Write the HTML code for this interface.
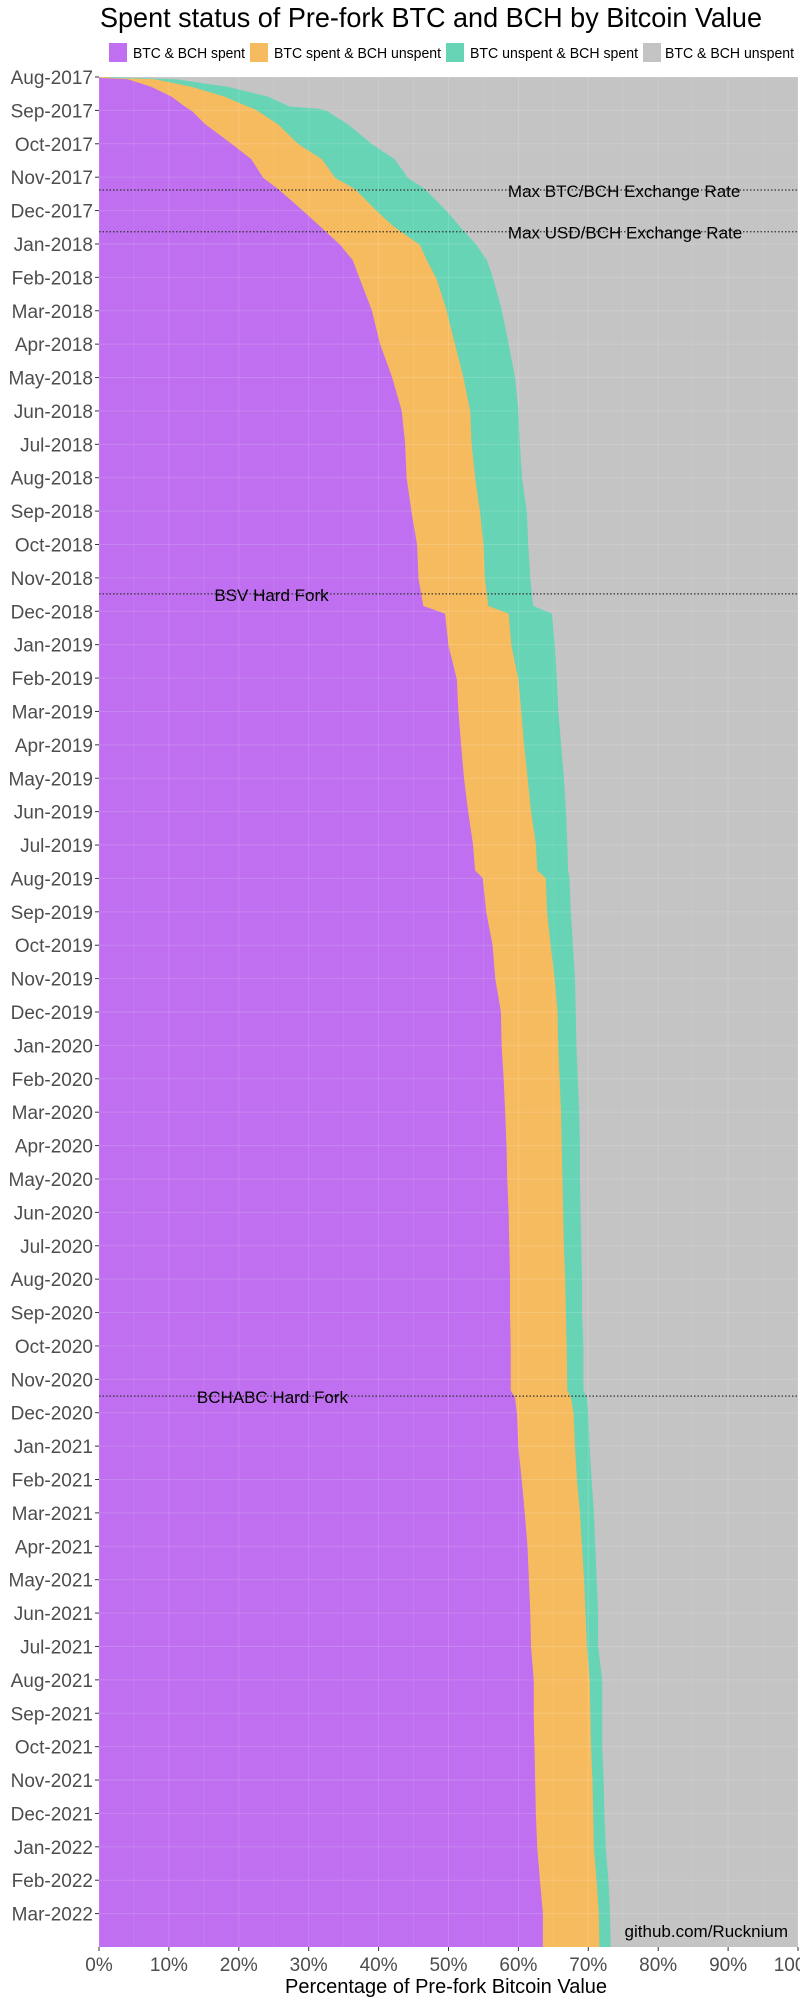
<!DOCTYPE html>
<html><head><meta charset="utf-8"><style>
body{margin:0;background:#fff;}
svg{display:block;font-family:"Liberation Sans",sans-serif;}
</style></head><body>
<svg id="chart" width="800" height="2000" viewBox="0 0 800 2000">
<text x="100" y="27" font-size="28" textLength="662" lengthAdjust="spacingAndGlyphs" fill="#000">Spent status of Pre-fork BTC and BCH by Bitcoin Value</text>
<g>
 <g><rect x="109" y="43" width="18" height="19" fill="#bf6fef"/><text x="133" y="58" font-size="15" textLength="112" lengthAdjust="spacingAndGlyphs">BTC &amp; BCH spent</text></g>
 <g><rect x="250" y="43" width="18" height="19" fill="#f7bb5f"/><text x="274" y="58" font-size="15" textLength="167" lengthAdjust="spacingAndGlyphs">BTC spent &amp; BCH unspent</text></g>
 <g><rect x="446" y="43" width="18" height="19" fill="#66d4b5"/><text x="470" y="58" font-size="15" textLength="168" lengthAdjust="spacingAndGlyphs">BTC unspent &amp; BCH spent</text></g>
 <g><rect x="643" y="43" width="18" height="19" fill="#c4c4c4"/><text x="665" y="58" font-size="15" textLength="129" lengthAdjust="spacingAndGlyphs">BTC &amp; BCH unspent</text></g>
</g>
<g id="plot"></g>
<text x="446" y="1993" font-size="20" text-anchor="middle">Percentage of Pre-fork Bitcoin Value</text>
</svg>
<script>
const dates=[
"2017-08-01","2017-08-02","2017-08-03","2017-08-10","2017-08-19","2017-08-28","2017-08-30","2017-09-01","2017-09-13","2017-10-01","2017-10-15","2017-11-01","2017-11-11","2017-12-01","2017-12-15",
"2018-01-01","2018-01-15","2018-02-01","2018-03-01","2018-04-01","2018-05-01","2018-06-01","2018-07-01","2018-08-01","2018-09-01","2018-10-01","2018-11-01","2018-11-26","2018-12-03",
"2019-01-01","2019-02-01","2019-03-01","2019-04-01","2019-05-01","2019-06-01","2019-07-01","2019-07-25","2019-08-01","2019-09-01","2019-10-01","2019-11-01","2019-12-01",
"2020-01-01","2020-02-01","2020-03-01","2020-04-01","2020-05-01","2020-06-01","2020-07-01","2020-08-01","2020-09-01","2020-10-01","2020-11-10","2020-11-16","2020-12-01",
"2021-01-01","2021-02-01","2021-03-01","2021-04-01","2021-05-01","2021-06-01","2021-07-01","2021-08-01","2021-09-01","2021-10-01","2021-11-01","2021-12-01",
"2022-01-01","2022-02-01","2022-03-01","2022-04-01"];
const cumBothSpent=[
0,0.4,4.1,7.5,10.4,12.3,12.8,13.3,15.2,19,21.8,23.5,25.6,29.2,31.6,
34.5,36.3,37.3,39,40.2,41.9,43.3,43.8,44,44.7,45.5,45.7,46.4,49.5,
50,51.2,51.4,51.8,52.2,52.8,53.5,53.8,54.9,55.4,56.3,56.7,57.5,
57.6,57.9,58.1,58.3,58.4,58.6,58.7,58.8,58.8,58.9,58.9,59.5,59.8,
60,60.5,60.9,61.3,61.5,61.7,61.8,62.2,62.2,62.3,62.4,62.5,
62.7,63.1,63.5,63.5];
const cumBtcSpent=[
0.5,2.3,8,13.3,18,21.3,22.2,22.7,25.6,28.5,31.9,33.8,36.6,39.7,42.1,
45.9,46.9,48.3,49.7,50.9,52.1,53.1,53.3,53.8,54.5,55,55.2,55.7,58.6,
59,60,60.4,60.8,61.3,61.8,62.5,62.7,63.9,64.1,64.6,65.2,65.6,
65.7,65.9,66.1,66.2,66.3,66.4,66.5,66.7,66.8,66.9,67,67.5,67.9,
68.1,68.4,68.8,69.1,69.4,69.6,69.8,70.2,70.3,70.4,70.6,70.7,
70.8,71.2,71.5,71.6];
const cumAnySpent=[
1,5.6,10.9,18.5,24.2,27.3,31.5,32.6,35.6,39,42.3,44.2,46.6,49.7,51.6,
54,55.5,56.4,57.6,58.6,59.5,60,60.2,60.5,61.2,61.4,61.7,62.1,64.8,
65.2,65.5,65.7,66.1,66.5,66.8,67,67.1,67.3,67.5,67.8,68.1,68.2,
68.3,68.5,68.7,68.8,68.8,68.9,69,69.1,69.1,69.3,69.3,69.8,70,
70.2,70.5,70.8,71,71.2,71.4,71.4,72,72,72,72.2,72.3,
72.5,72.9,73.1,73.2];
const monthLabels=["Aug-2017","Sep-2017","Oct-2017","Nov-2017","Dec-2017","Jan-2018","Feb-2018","Mar-2018","Apr-2018","May-2018","Jun-2018","Jul-2018","Aug-2018","Sep-2018","Oct-2018","Nov-2018","Dec-2018","Jan-2019","Feb-2019","Mar-2019","Apr-2019","May-2019","Jun-2019","Jul-2019","Aug-2019","Sep-2019","Oct-2019","Nov-2019","Dec-2019","Jan-2020","Feb-2020","Mar-2020","Apr-2020","May-2020","Jun-2020","Jul-2020","Aug-2020","Sep-2020","Oct-2020","Nov-2020","Dec-2020","Jan-2021","Feb-2021","Mar-2021","Apr-2021","May-2021","Jun-2021","Jul-2021","Aug-2021","Sep-2021","Oct-2021","Nov-2021","Dec-2021","Jan-2022","Feb-2022","Mar-2022"];
const xTicks=[0,10,20,30,40,50,60,70,80,90,100];
const eventDates=["2017-11-12","2017-12-20","2018-11-15","2020-11-15"];
const eventLabels=["Max BTC/BCH Exchange Rate","Max USD/BCH Exchange Rate","BSV Hard Fork","BCHABC Hard Fork"];
const eventLabelX=[58.5,58.5,16.5,14];

const NS="http://www.w3.org/2000/svg";
const L=99,R=798,T=77,B=1947;
const t0=Date.UTC(2017,7,1), t1=Date.UTC(2022,3,1);
function xs(v){return L+(R-L)*v/100;}
function ys(d){const p=d.split("-").map(Number);const t=Date.UTC(p[0],p[1]-1,p[2]);return T+(B-T)*(t-t0)/(t1-t0);}
const g=document.getElementById("plot");
function mk(tag,attrs){const e=document.createElementNS(NS,tag);for(const k in attrs)e.setAttribute(k,attrs[k]);g.appendChild(e);return e;}
const bg=mk("rect",{x:L,y:T,width:R-L,height:B-T,fill:"#c4c4c4"});


function area(arr,color,name){
 let pts=[xs(0)+","+ys(dates[0])];
 for(let i=0;i<dates.length;i++){
  pts.push(xs(arr[i])+","+ys(dates[i]));
 }
 pts.push(xs(0)+","+ys(dates[dates.length-1]));
 const p=mk("polygon",{points:pts.join(" "),fill:color});
 
 
}
area(cumAnySpent,"#66d4b5","area-btc-unspent-bch-spent");
area(cumBtcSpent,"#f7bb5f","area-btc-spent-bch-unspent");
area(cumBothSpent,"#bf6fef","area-both-spent");
for(let v=0;v<=100;v+=5){
 const ln=mk("line",{x1:xs(v),x2:xs(v),y1:T,y2:B,stroke:"#fff","stroke-opacity":v%10?0.08:0.15,"stroke-width":1});
 
 
}
monthLabels.forEach((m,i)=>{
 const y=T+(B-T)*i/56;
 const ln=mk("line",{x1:L,x2:R,y1:y,y2:y,stroke:"#fff","stroke-opacity":0.15,"stroke-width":1});
 
 
 const tk=mk("line",{x1:L-4,x2:L,y1:y,y2:y,stroke:"#333","stroke-width":1});
 
 
 const tx=mk("text",{x:L-6,y:y+7,"font-size":19,"text-anchor":"end",fill:"#4d4d4d"});
 tx.textContent=m;
 
 
});
xTicks.forEach(v=>{
 const tk=mk("line",{x1:xs(v),x2:xs(v),y1:B,y2:B+4,stroke:"#333","stroke-width":1});
 
 
 const tx=mk("text",{x:xs(v),y:B+24,"font-size":19,"text-anchor":"middle",fill:"#4d4d4d"});
 tx.textContent=v+"%";
 
 
});
eventDates.forEach((d,i)=>{
 const y=ys(d);
 const ln=mk("line",{x1:L,x2:R,y1:y,y2:y,stroke:"#333","stroke-width":1.3,"stroke-dasharray":"1.5,2"});
 
 
 const tx=mk("text",{x:xs(eventLabelX[i]),y:y+7,"font-size":17,fill:"#000"});
 tx.textContent=eventLabels[i];
 
 
});
const cr=mk("text",{x:788,y:1937,"font-size":17,"text-anchor":"end",fill:"#000"});
cr.textContent="github.com/Rucknium";


</script>
</body></html>
